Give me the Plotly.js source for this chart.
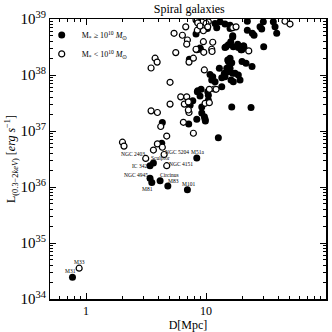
<!DOCTYPE html>
<html>
<head>
<meta charset="utf-8">
<script src="https://cdn.plot.ly/plotly-3.0.1.min.js"></script>
<style>
  html, body { margin: 0; padding: 0; background: #fff; }
  #chart { width: 332px; height: 332px; }
</style>
</head>
<body>
<div id="chart"></div>
<script>
// Distance in Mpc, luminosity given as log10(L / erg s^-1)
const filledD = [
  0.77, 3.41, 3.64, 3.41, 3.53, 4.14, 4.80, 6.99, 8.37,
  4.27, 4.32, 7.17, 8.37, 9.21, 9.82, 9.68, 12.66, 9.87, 7.36, 8.46, 8.91, 10.45, 10.45, 9.21,
  10.79, 11.37, 11.15, 11.89, 10.26, 12.27, 8.25, 8.91, 8.37, 11.89, 16.69, 7.26, 8.97,
  14.68, 18.36, 20.61, 19.57, 30.24, 15.17, 19.95, 21.54, 24.17, 15.64, 15.17, 14.21, 16.69, 16.16, 12.91,
  13.09, 14.39, 15.85, 22.09, 30.03, 36.37, 37.58, 38.82, 28.18, 29.11, 15.85, 16.69,
  22.09, 24.31, 25.12, 16.07, 15.35, 14.39, 16.88, 18.58, 20.46, 20.73, 19.85,
  15.85, 15.35, 16.37, 14.88, 15.85, 15.35, 17.45, 18.58, 14.39, 13.52, 19.20, 16.88,
  13.52, 16.37, 23.71, 8.53, 9.09, 10.33, 7.75
];
const filledLogL = [
  34.39, 36.38, 36.43, 36.155, 36.08, 36.11, 36.02, 35.95, 36.52,
  36.78, 37.15, 37.125, 37.21, 37.32, 37.21, 37.255, 36.88, 37.18, 37.46, 37.70, 37.625, 37.64, 37.55, 37.43,
  38.01, 37.97, 37.91, 37.88, 38.83, 38.845, 38.73, 38.48, 38.45, 38.92, 38.68, 38.28, 38.46,
  38.505, 38.55, 38.52, 38.45, 38.505, 38.27, 38.24, 38.21, 38.15, 38.15, 38.08, 38.03, 38.03, 37.91, 38.12,
  38.95, 38.91, 38.89, 38.96, 38.95, 38.95, 38.86, 38.745, 38.86, 38.82, 38.83, 38.70,
  38.80, 38.745, 38.71, 38.595, 38.54, 38.49, 38.505, 38.49, 38.52, 38.48, 38.45,
  38.30, 38.24, 38.22, 38.12, 38.12, 38.06, 38.03, 38.00, 37.97, 37.95, 37.91, 37.88,
  37.79, 37.43, 37.42, 37.72, 37.745, 37.70, 37.54
];

const openD = [
  0.875, 3.14, 4.47, 4.70,
  2.01, 2.07, 3.64, 3.93, 4.32, 4.70, 4.19, 6.47, 7.84, 3.48, 3.93, 7.21,
  6.77, 5.41, 6.35, 6.99, 6.90, 3.76, 3.91, 3.48, 5.59, 7.21, 7.84,
  5.01, 6.15, 6.90, 6.59, 5.01, 7.12, 9.82, 10.65, 11.73, 9.68,
  8.46, 9.50, 8.25, 9.50, 11.37, 11.15, 9.21, 10.45, 8.53, 8.91, 10.0, 10.33,
  8.25, 9.57, 11.22, 22.70, 16.69, 17.78, 45.5, 50.1, 10.65, 12.12, 7.12
];
const openLogL = [
  34.55, 36.51, 36.58, 36.38,
  36.80, 36.73, 36.66, 36.77, 36.71, 36.91, 37.08, 37.155, 36.96, 37.36, 37.33, 37.33,
  38.86, 38.745, 38.71, 38.625, 38.55, 38.30, 38.23, 38.125, 38.40, 38.23, 38.30,
  37.87, 37.61, 37.61, 37.48, 37.48, 37.375, 37.495, 37.505, 37.75, 38.09,
  38.80, 38.79, 38.98, 38.595, 38.585, 38.46, 38.95, 38.95, 38.93, 38.875, 38.92, 38.86,
  38.46, 38.405, 38.42, 38.43, 38.845, 38.86, 38.96, 38.91, 37.745, 37.745, 37.52
];

// labelled galaxies: index into the filled / open arrays
const labelNames = ['M31', 'IC 342', 'Sculptor', 'NGC 4945', 'M81', 'Circinus', 'M83', 'M101', 'M51a',
                    'M33', 'NGC 2403', 'NGC 5204', 'NGC 4151'];
const labelSet = ['f', 'f', 'f', 'f', 'f', 'f', 'f', 'f', 'f', 'o', 'o', 'o', 'o'];
const labelIdx = [0, 1, 2, 3, 4, 5, 6, 7, 8, 0, 1, 2, 3];
const labelShiftX = [-2, -11, 7, -14, -4, 9, 6, 1, 1, 0, -13, 13, 14];
const labelShiftY = [6, 0, 5, 3, -6, 6, 5, 6, 6, 6, 4, 3, 2];

const toL = v => Math.pow(10, v);
const serif = 'Liberation Serif, Times New Roman, serif';

const data = [
  {
    x: filledD, y: filledLogL.map(toL),
    type: 'scatter', mode: 'markers',
    name: 'M<sub>*</sub> ≥ 10<sup>10</sup> <i>M</i><sub>⊙</sub>',
    marker: { color: '#000', size: 7, symbol: 'circle', line: { width: 0 } }
  },
  {
    x: openD, y: openLogL.map(toL),
    type: 'scatter', mode: 'markers',
    name: 'M<sub>*</sub> < 10<sup>10</sup> <i>M</i><sub>⊙</sub>',
    marker: { color: '#fff', size: 6, symbol: 'circle', line: { color: '#000', width: 1.2 } }
  }
];

const annotations = labelNames.map((name, i) => {
  const xs = labelSet[i] === 'f' ? filledD : openD;
  const ys = labelSet[i] === 'f' ? filledLogL : openLogL;
  return {
    x: Math.log10(xs[labelIdx[i]]),
    y: ys[labelIdx[i]],
    text: name,
    showarrow: false,
    xshift: labelShiftX[i],
    yshift: labelShiftY[i],
    font: { family: serif, size: 5.5, color: '#000' }
  };
});

const axisCommon = {
  type: 'log',
  showline: true, linecolor: '#000', linewidth: 1.5,
  mirror: 'allticks',
  ticks: 'inside', ticklen: 6, tickwidth: 1, tickcolor: '#000',
  minor: { ticks: 'inside', ticklen: 3, tickwidth: 1, tickcolor: '#000', showgrid: false },
  showgrid: false, zeroline: false,
  tickfont: { family: serif, size: 12, color: '#000' }
};

const layout = {
  width: 332, height: 332,
  margin: { l: 50, r: 6, t: 19, b: 33 },
  paper_bgcolor: '#fff', plot_bgcolor: '#fff',
  font: { family: serif, color: '#000' },
  title: { text: 'Spiral galaxies', font: { family: serif, size: 12 }, x: 0.57, xanchor: 'center', y: 0.985, yanchor: 'top' },
  showlegend: true,
  legend: {
    x: -0.03, y: 0.995, xanchor: 'left', yanchor: 'top',
    bgcolor: 'rgba(0,0,0,0)', borderwidth: 0,
    font: { family: serif, size: 8 },
    itemsizing: 'trace', tracegroupgap: 0
  },
  xaxis: Object.assign({}, axisCommon, {
    range: [Math.log10(0.5), 2],
    dtick: 1,
    title: { text: 'D[Mpc]', font: { family: serif, size: 12 }, standoff: 4 }
  }),
  yaxis: Object.assign({}, axisCommon, {
    range: [34, 39],
    dtick: 1,
    exponentformat: 'power',
    title: { text: 'L<sub>(0.3−2<i>keV</i>)</sub> [<i>erg s</i><sup>−1</sup>]', font: { family: serif, size: 12 }, standoff: 2 }
  }),
  annotations: annotations
};

Plotly.newPlot('chart', data, layout, { displayModeBar: false, staticPlot: true });
</script>
</body>
</html>
